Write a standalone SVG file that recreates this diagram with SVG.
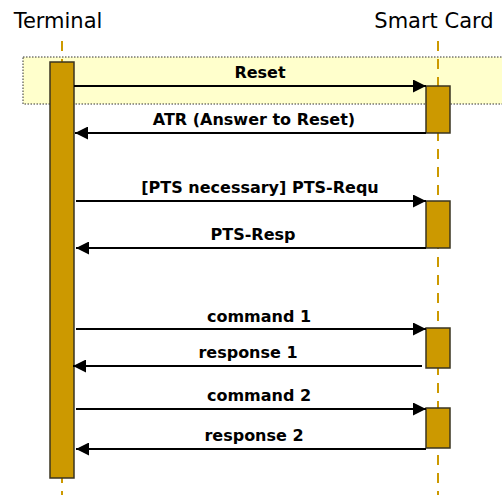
<svg xmlns="http://www.w3.org/2000/svg" width="502" height="500" viewBox="0 0 502 500">
<style>
.title{font-family:"DejaVu Sans","Liberation Sans",sans-serif;font-size:21px;fill:#000;text-anchor:middle}
.lbl{font-family:"DejaVu Sans","Liberation Sans",sans-serif;font-size:16px;font-weight:bold;fill:#000;text-anchor:middle}
.life{stroke:#CC9900;stroke-width:2;stroke-dasharray:10,8;fill:none}
.act{fill:#CC9900;stroke:#3a3420;stroke-width:1.5}
.msg{stroke:#000;stroke-width:2;fill:none}
</style>
<defs>
<marker id="ah" viewBox="0 0 13 13" refX="13" refY="6.5" markerWidth="13" markerHeight="13" markerUnits="userSpaceOnUse" orient="auto">
<path d="M0,0 L13,6.5 L0,13 z" fill="#000"/>
</marker>
</defs>
<rect id="band" x="23" y="57" width="482" height="47" fill="#FFFFCC" stroke="#333" stroke-width="1" stroke-dasharray="1.5,1.5"/>
<g id="terminal">
<text class="title" x="58" y="28">Terminal</text>
<line class="life" x1="62" y1="41" x2="62" y2="495"/>
<rect class="act" x="50" y="62" width="24" height="416"/>
</g>
<g id="smartcard">
<text class="title" x="434" y="28">Smart Card</text>
<line class="life" x1="438" y1="41" x2="438" y2="495"/>
<rect class="act" x="426" y="86" width="24" height="47"/>
<rect class="act" x="426" y="201" width="24" height="47"/>
<rect class="act" x="426" y="328" width="24" height="40"/>
<rect class="act" x="426" y="408" width="24" height="40"/>
</g>
<g id="connectors">
<line class="msg" x1="74" y1="86" x2="426" y2="86" marker-end="url(#ah)"/>
<text class="lbl" x="260" y="78">Reset</text>
<line class="msg" x1="426" y1="133" x2="75" y2="133" marker-end="url(#ah)"/>
<text class="lbl" x="254" y="125">ATR (Answer to Reset)</text>
<line class="msg" x1="76" y1="201" x2="426" y2="201" marker-end="url(#ah)"/>
<text class="lbl" x="260" y="193">[PTS necessary] PTS-Requ</text>
<line class="msg" x1="426" y1="248" x2="76" y2="248" marker-end="url(#ah)"/>
<text class="lbl" x="253" y="240">PTS-Resp</text>
<line class="msg" x1="76" y1="329" x2="426" y2="329" marker-end="url(#ah)"/>
<text class="lbl" x="259" y="322">command 1</text>
<line class="msg" x1="422" y1="366" x2="73" y2="366" marker-end="url(#ah)"/>
<text class="lbl" x="248" y="358">response 1</text>
<line class="msg" x1="76" y1="409" x2="426" y2="409" marker-end="url(#ah)"/>
<text class="lbl" x="259" y="401">command 2</text>
<line class="msg" x1="426" y1="449" x2="76" y2="449" marker-end="url(#ah)"/>
<text class="lbl" x="254" y="441">response 2</text>
</g>
</svg>
